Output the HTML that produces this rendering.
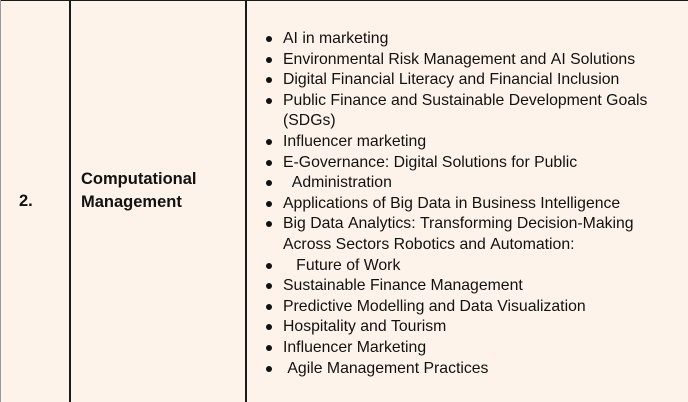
<!DOCTYPE html>
<html><head><meta charset="utf-8"><style>
body{margin:0;width:688px;height:402px;overflow:hidden;background:#fdf3ea;font-family:"Liberation Sans",sans-serif;color:#111;position:relative}
.l{position:absolute;background:#1a1a1a}
.t{position:absolute;white-space:nowrap;font-size:15.8px;line-height:20px}
.b{font-weight:bold;font-size:16.5px}
.dot{position:absolute;width:6px;height:6px;border-radius:50%;background:#111}
</style></head><body>
<div class="l" style="left:0;top:0;width:688px;height:1px"></div>
<div class="l" style="left:0;top:0;width:1px;height:402px;background:#999"></div>
<div class="l" style="left:69px;top:0;width:2px;height:402px"></div>
<div class="l" style="left:245px;top:0;width:2px;height:402px"></div>
<div class="t b" style="left:19px;top:191px">2.</div>
<div class="t b" style="left:81px;top:168px;line-height:23px">Computational<br>Management</div>
<div id="list"></div>
<script>
const items=[["AI in marketing",1],["Environmental Risk Management and AI Solutions",1],["Digital Financial Literacy and Financial Inclusion",1],["Public Finance and Sustainable Development Goals",1],["(SDGs)",0],["Influencer marketing",1],["E-Governance: Digital Solutions for Public",1],["  Administration",1],["Applications of Big Data in Business Intelligence",1],["Big Data Analytics: Transforming Decision-Making",1],["Across Sectors Robotics and Automation:",0],["   Future of Work",1],["Sustainable Finance Management",1],["Predictive Modelling and Data Visualization",1],["Hospitality and Tourism",1],["Influencer Marketing",1],[" Agile Management Practices",1]];
const list=document.getElementById('list');
items.forEach((it,i)=>{
 const y=39+i*20.6;
 const t=document.createElement('div');
 t.className='t';
 
 
 t.style.left='283px';t.style.top=(y-10)+'px';
 t.textContent=it[0].replace(/ /g,'\u00a0');
 list.appendChild(t);
 if(it[1]){const d=document.createElement('div');d.className='dot';
 
 
 d.style.left='266px';d.style.top=(y-3)+'px';list.appendChild(d);}
});
</script>
</body></html>
